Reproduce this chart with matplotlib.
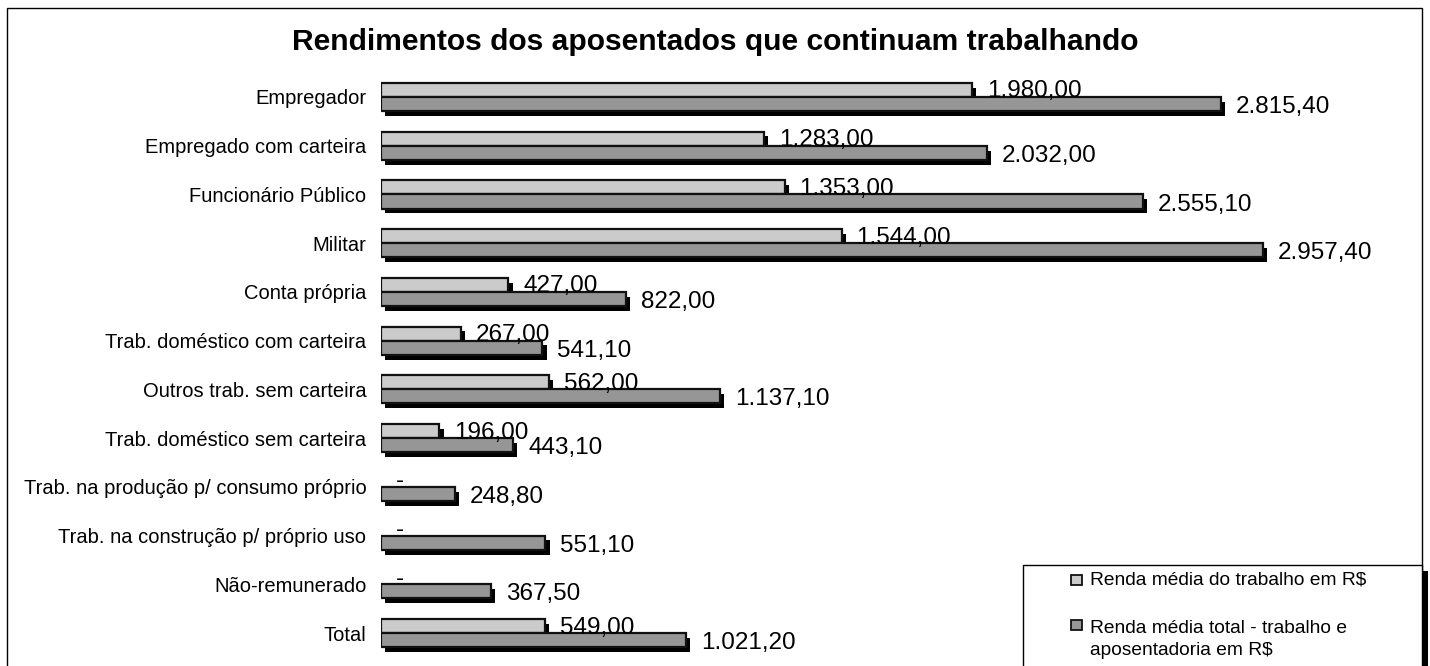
import matplotlib
matplotlib.use("Agg")
import matplotlib.pyplot as plt
import matplotlib.patheffects as pe
from matplotlib.patches import Rectangle
import numpy as np

plt.rcParams["font.family"] = ["Liberation Sans", "DejaVu Sans"]

CATEGORIES = [
    "Empregador",
    "Empregado com carteira",
    "Funcionário Público",
    "Militar",
    "Conta própria",
    "Trab. doméstico com carteira",
    "Outros trab. sem carteira",
    "Trab. doméstico sem carteira",
    "Trab. na produção p/ consumo próprio",
    "Trab. na construção p/ próprio uso",
    "Não-remunerado",
    "Total",
]
RENDA_TRABALHO = [1980.00, 1283.00, 1353.00, 1544.00, 427.00, 267.00,
                  562.00, 196.00, 0, 0, 0, 549.00]
RENDA_TOTAL = [2815.40, 2032.00, 2555.10, 2957.40, 822.00, 541.10,
               1137.10, 443.10, 248.80, 551.10, 367.50, 1021.20]
LEGEND_LABELS = ["Renda média do trabalho em R$",
                 "Renda média total - trabalho e\naposentadoria em R$"]
TITLE = "Rendimentos dos aposentados que continuam trabalhando"

LIGHT = "#cbcbcb"
DARK = "#969696"


def fmt_br(v):
    if v == 0:
        return "-"
    s = f"{v:,.2f}"
    return s.replace(",", "X").replace(".", ",").replace("X", ".")


W, H = 1430, 666
fig = plt.figure(figsize=(W / 100, H / 100), dpi=100)

# axes: zero at x=381, rows centred 97..633 px
ax_left = 381 / W
ax_right = 1400 / W
ax_top = 1 - 72.6 / H
ax_bot = 1 - 657.4 / H
ax = fig.add_axes([ax_left, ax_bot, ax_right - ax_left, ax_top - ax_bot])

y = np.arange(len(CATEGORIES))
bh = 0.29
shadow = [pe.SimplePatchShadow(offset=(3, -3.5), shadow_rgbFace="black", alpha=1.0),
          pe.Normal()]

b1 = ax.barh(y - bh / 2, RENDA_TRABALHO, height=bh, color=LIGHT,
             edgecolor="#111111", linewidth=1.6, zorder=2)
b2 = ax.barh(y + bh / 2, RENDA_TOTAL, height=bh, color=DARK,
             edgecolor="#111111", linewidth=1.6, zorder=3)
for p in list(b1) + list(b2):
    p.set_path_effects(shadow)
    if p.get_width() == 0:
        p.set_visible(False)

ax.set_xlim(0, 3416)
ax.set_ylim(len(CATEGORIES) - 0.5, -0.5)
scale = (1400 - 381) / 3416.0

off = 15 / scale
for yi, v in zip(y, RENDA_TRABALHO):
    ax.text(v + off, yi + 0.01, fmt_br(v), va="baseline", ha="left",
            fontsize=17.5, zorder=5)
for yi, v in zip(y, RENDA_TOTAL):
    ax.text(v + off, yi + bh + 0.04, fmt_br(v), va="baseline", ha="left",
            fontsize=17.5, zorder=5)

ax.set_yticks(y)
ax.set_yticklabels(CATEGORIES, fontsize=14.5)
ax.tick_params(axis="y", length=0, pad=10.5)
ax.tick_params(axis="x", length=0, labelbottom=False)
for s in ax.spines.values():
    s.set_visible(False)

fig.text(0.5, 1 - 42 / H, TITLE, ha="center", va="center",
         fontsize=21.6, fontweight="bold")

# outer frame
fig.add_artist(Rectangle((7 / W, -0.05), (1422 - 7) / W, 1 - 8 / H + 0.05,
                         transform=fig.transFigure, fill=False,
                         edgecolor="black", linewidth=1))

# legend box with shadow
fig.add_artist(Rectangle((1029 / W, -0.05), (1428 - 1029) / W,
                         1 - 571 / H + 0.05, transform=fig.transFigure,
                         facecolor="black", edgecolor="none", zorder=8))
fig.add_artist(Rectangle((1023 / W, -0.05), (1422 - 1023) / W,
                         1 - 565 / H + 0.05, transform=fig.transFigure,
                         facecolor="white", edgecolor="black", linewidth=1,
                         zorder=9))
# handle centre y and baseline of the last text line (px)
leg_y = [580, 625]
leg_base = [585, 655]
for ly, lb, lab, col in zip(leg_y, leg_base, LEGEND_LABELS, [LIGHT, DARK]):
    fig.add_artist(Rectangle((1071 / W, 1 - (ly + 5) / H), 11 / W, 10 / H,
                             transform=fig.transFigure, facecolor=col,
                             edgecolor="#111111", linewidth=1.3, zorder=10))
    fig.text(1090 / W, 1 - lb / H, lab, ha="left", va="baseline",
             fontsize=13.8, linespacing=1.4, zorder=10)

fig.savefig("out.png", dpi=100)
